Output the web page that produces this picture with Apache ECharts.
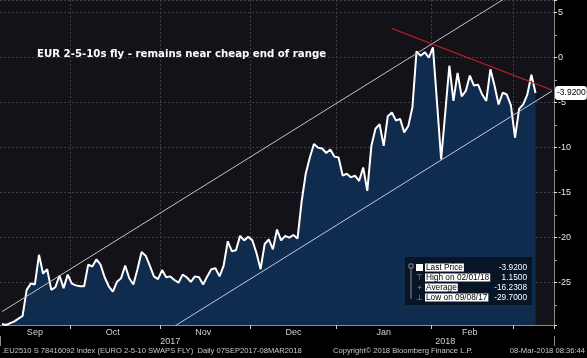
<!DOCTYPE html>
<html><head><meta charset="utf-8">
<script src="https://cdn.jsdelivr.net/npm/echarts@6/dist/echarts.min.js"></script>
<style>html,body{margin:0;padding:0;background:#000;overflow:hidden}#c{width:587px;height:358px}</style>
</head><body><div id="c"></div>
<script>
// Daily values (weekdays) 07-Sep-2017 .. 08-Mar-2018
const values = [
 -29.6,-29.7,-29.5,-29.3,-29.0,-28.7,-25.8,-25.1,-25.2,-21.9,
 -24.0,-23.5,-25.8,-25.5,-24.2,-25.6,-24.1,-25.1,-25.3,-25.4,
 -25.4,-23.0,-23.2,-22.4,-23.0,-24.4,-25.4,-26.0,-24.9,-24.5,
 -23.1,-24.5,-25.2,-23.5,-21.6,-22.0,-23.1,-24.3,-24.6,-23.6,
 -24.4,-24.3,-24.7,-25.0,-24.1,-24.4,-24.9,-24.3,-24.4,-25.2,
 -24.3,-23.5,-23.4,-24.3,-23.1,-20.4,-21.5,-21.4,-19.8,-20.3,
 -19.9,-20.3,-21.7,-23.5,-20.7,-20.2,-21.3,-19.1,-20.3,-19.8,
 -20.0,-19.7,-20.1,-16.0,-12.9,-11.1,-9.6,-10.0,-10.1,-10.6,
 -10.2,-11.0,-11.1,-13.1,-12.9,-13.3,-13.1,-13.7,-12.2,-14.8,
 -9.8,-7.9,-7.4,-9.8,-6.5,-6.1,-7.0,-6.8,-8.3,-7.6,
 -5.5,0.7,0.2,0.6,0.0,1.15,-5.0,-11.3,-6.1,-0.9,
 -4.8,-1.7,-4.3,-3.7,-2.0,-3.1,-3.0,-4.1,-4.8,-1.3,
 -3.1,-5.2,-3.9,-4.1,-5.3,-8.9,-5.7,-5.2,-4.1,-1.9,
 -3.92
];
const startDate = '2017-09-07';
const totalSlots = 135; // weekdays on the axis (data + empty room at right)
const monthNames = ['Jan','Feb','Mar','Apr','May','Jun','Jul','Aug','Sep','Oct','Nov','Dec'];
const monthLabels = ['Sep','Oct','Nov','Dec','Jan','Feb'];
const yearLabels = ['2017','2018'];
// Trend lines: [category index, value]
const upperChannel = [[0,-28.21],[134,9.83]];
const lowerChannel = [[40,-30.41],[134,-3.71]];
const resistance = [[95,3.24],[134,-3.6]];
const lastPrice = -3.92;
const legendLabels = ['Last Price','High on 02/01/18','Average','Low on 09/08/17'];
const legendValues = ['-3.9200','1.1500','-16.2308','-29.7000'];
const titleText = 'EUR 2-5-10s fly - remains near cheap end of range';
const footerLeft = '.EU2510 S 78416092 Index (EURO 2-5-10 SWAPS FLY)  Daily 07SEP2017-08MAR2018';
const footerMid = 'Copyright\u00A9 2018 Bloomberg Finance L.P.';
const footerRight = '08-Mar-2018 08:36:44';

// build weekday categories
const dates = [];
{
  const d = new Date(startDate + 'T12:00:00Z');
  while (dates.length < totalSlots) {
    const wd = d.getUTCDay();
    if (wd !== 0 && wd !== 6) dates.push(d.toISOString().slice(0,10));
    d.setUTCDate(d.getUTCDate() + 1);
  }
}
// month / year groupings
const monthStart = new Set();
const monthLabelIdx = new Map();
const yearLabelIdx = new Map();
let yearStart = -1;
{
  const groups = [], ygroups = [];
  dates.forEach((s, i) => {
    const ym = s.slice(0,7), y = s.slice(0,4);
    if (!groups.length || groups[groups.length-1].k !== ym) groups.push({k: ym, a: i, b: i}); else groups[groups.length-1].b = i;
    if (!ygroups.length || ygroups[ygroups.length-1].k !== y) ygroups.push({k: y, a: i, b: i}); else ygroups[ygroups.length-1].b = i;
  });
  groups.forEach((g, gi) => {
    if (gi > 0) monthStart.add(g.a);
    const m = monthNames[parseInt(g.k.slice(5,7),10)-1];
    if (monthLabels.includes(m)) monthLabelIdx.set(Math.floor((g.a + g.b)/2), m);
  });
  ygroups.forEach((g, gi) => {
    if (gi > 0) yearStart = g.a;
    if (yearLabels.includes(g.k)) yearLabelIdx.set(Math.round((g.a + g.b)/2), g.k);
  });
}

const FONT = 'Liberation Sans';
const gridColor = '#3e3e46';
const chart = echarts.init(document.getElementById('c'), null, {renderer: 'canvas'});

// legend box (absolute positions)
const LX = 405, LY = 257;
const LFONT = '8.3px ' + FONT;
const legendEls = [
  {type:'rect', x: LX, y: LY, z: 20, shape:{x:0,y:0,width:127,height:48}, style:{fill:'rgba(7,19,36,0.93)'}},
  {type:'rect', x: LX, y: LY, z: 21, shape:{x:4,y:7,width:4,height:4}, style:{fill:'rgba(0,0,0,0)', stroke:'#8a8a8a', lineWidth:1}},
  {type:'line', x: LX, y: LY, z: 21, shape:{x1:6,y1:11,x2:6,y2:42}, style:{stroke:'#8a8a8a', lineWidth:1}},
  {type:'rect', x: LX, y: LY, z: 21, shape:{x:11,y:7,width:7,height:7}, style:{fill:'#ffffff'}}
];
const glyphs = ['', '\u22A4', '+', '\u22A5'];
legendLabels.forEach((t, r) => {
  const y = LY + 10.5 + r * 10;
  if (glyphs[r]) legendEls.push({type:'text', x: LX + 14.5, y: y, z: 21, style:{text:glyphs[r], fill:'#9a9a9a', font:'8px ' + FONT, align:'center', verticalAlign:'middle'}});
  legendEls.push({type:'text', x: LX + 20, y: y, z: 21, style:{text:t, fill:'#000000', backgroundColor:'#ffffff', padding:[0,1,0,1], font:LFONT, verticalAlign:'middle'}});
  legendEls.push({type:'text', x: LX + 122, y: y, z: 21, style:{text:legendValues[r], fill:'#ffffff', font:LFONT, align:'right', verticalAlign:'middle'}});
});

chart.setOption({
  backgroundColor: '#000000',
  animation: false,
  textStyle: {fontFamily: FONT},
  grid: {left: -3, right: 33, top: 0, bottom: 33, show: true, backgroundColor: '#131219', borderWidth: 0, containLabel: false},
  xAxis: [{
    type: 'category', data: dates, boundaryGap: true, gridIndex: 0,
    axisLine: {show: true, onZero: false, lineStyle: {color: '#8c8c8c', width: 1}},
    axisTick: {show: true, interval: (i) => monthStart.has(i), length: 4, lineStyle: {color: '#cfcfcf'}},
    axisLabel: {interval: (i) => monthLabelIdx.has(i), formatter: (v, i) => monthLabelIdx.get(i) || '', color: '#d0d0d0', fontSize: 9, margin: 3},
    splitLine: {show: true, interval: (i) => monthStart.has(i), lineStyle: {color: gridColor, type: [2, 2]}}
  }, {
    type: 'category', data: dates, boundaryGap: true, gridIndex: 0, position: 'bottom', offset: 11,
    axisLine: {show: false, onZero: false},
    axisTick: {show: true, interval: (i) => i === yearStart, length: 10, lineStyle: {color: '#8c8c8c'}},
    axisLabel: {interval: (i) => yearLabelIdx.has(i), formatter: (v, i) => yearLabelIdx.get(i) || '', color: '#d0d0d0', fontSize: 9, margin: 1},
    splitLine: {show: false}
  }],
  yAxis: {
    type: 'value', position: 'right', min: -29.7, max: 6.4, splitNumber: 7, scale: true,
    axisLine: {show: true, lineStyle: {color: '#8c8c8c'}},
    axisTick: {show: true, length: 3, lineStyle: {color: '#dddddd'}},
    minorTick: {show: true, splitNumber: 2, length: 3, lineStyle: {color: '#9a9a9a'}},
    axisLabel: {color: '#e6e6e6', fontSize: 9, margin: 4, formatter: (v) => (Math.abs(v % 5) < 1e-6 ? String(v) : '')},
    splitLine: {show: true, lineStyle: {color: gridColor, type: [2, 2]}}
  },
  series: [{
    type: 'line', name: 'Last Price', data: values, xAxisIndex: 0, showSymbol: false, symbol: 'none', z: 2, clip: false,
    lineStyle: {color: '#ffffff', width: 2},
    areaStyle: {origin: 'start', color: '#0f2b4e', opacity: 1},
    markLine: {
      silent: true, symbol: 'none', animation: false,
      lineStyle: {color: 'rgba(0,0,0,0)', width: 0},
      data: [{yAxis: lastPrice}],
      label: {show: true, position: 'end', distance: 1, formatter: () => lastPrice.toFixed(4),
        color: '#000000', backgroundColor: '#ffffff', borderRadius: 3, padding: [3, 1, 2, 2], fontSize: 8.5}
    }
  }, {
    type: 'line', data: upperChannel, xAxisIndex: 0, showSymbol: false, symbol: 'none', z: 3, clip: true,
    lineStyle: {color: '#c4c4c4', width: 1}
  }, {
    type: 'line', data: lowerChannel, xAxisIndex: 0, showSymbol: false, symbol: 'none', z: 3, clip: true,
    lineStyle: {color: '#b8cde2', width: 1}
  }, {
    type: 'line', data: resistance, xAxisIndex: 0, showSymbol: false, symbol: 'none', z: 3, clip: true,
    lineStyle: {color: '#c8202a', width: 1.2}
  }],
  graphic: [
    {type: 'text', left: 37, top: 49, z: 10, style: {text: titleText, fill: '#ffffff', font: 'bold 10.2px "DejaVu Sans"'}},
    {type: 'text', left: 2, top: 347, z: 10, style: {text: footerLeft, fill: '#c8c8c8', font: '7.6px ' + FONT}},
    {type: 'text', left: 333, top: 347, z: 10, style: {text: footerMid, fill: '#c8c8c8', font: '7.6px ' + FONT}},
    {type: 'text', right: 2, top: 347, z: 10, style: {text: footerRight, fill: '#c8c8c8', font: '7.6px ' + FONT}}
  ].concat(legendEls)
});
</script></body></html>
